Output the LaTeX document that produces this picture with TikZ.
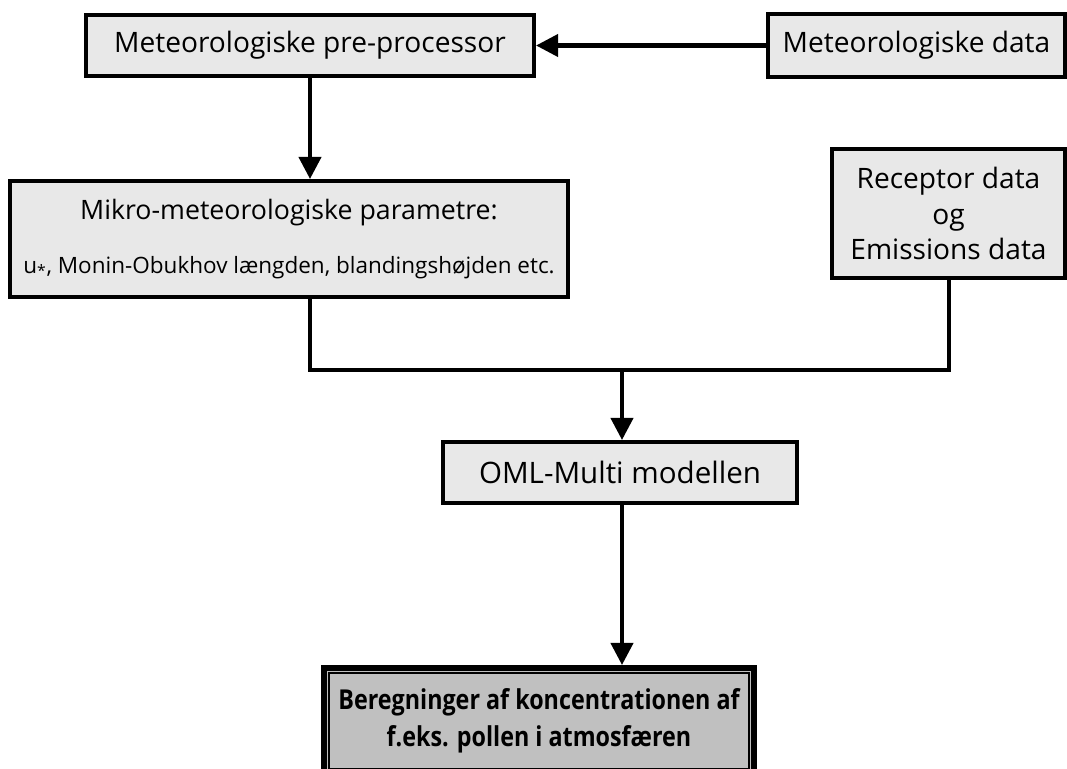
\documentclass[tikz,border=0pt]{standalone}
\usepackage{fontspec}
\setmainfont{Open Sans}
\newfontfamily\resfont[FakeStretch=0.85]{Open Sans}
\usetikzlibrary{arrows.meta,positioning,calc}
\definecolor{boxfill}{RGB}{232,232,232}
\definecolor{resfill}{RGB}{192,192,192}

\begin{document}
\begin{tikzpicture}[x=0.025cm,y=-0.025cm,font=\fontsize{20}{25}\selectfont,
  b/.style={draw,line width=1mm,fill=boxfill,align=center,inner sep=0pt},
  a/.style={line width=1mm,-{Triangle[length=5.5mm,width=5.5mm]}},
  l/.style={line width=1mm}]
\useasboundingbox (0,0) rectangle (1067,769);
\node[b,minimum width=11.2cm,minimum height=1.525cm] (p) at (310,45.5) {Meteorologiske pre-processor};
\node[b,minimum width=7.425cm,minimum height=1.55cm] (m) at (916.5,45.5) {Meteorologiske data};
\node[b,minimum width=13.95cm,minimum height=2.9cm,font=\fontsize{19}{24}\selectfont] (k) at (289,239)
  {Mikro-meteorologiske parametre:\\[14pt]{\fontsize{16}{20}\selectfont u\textsubscript{*}, Monin-Obukhov længden, blandingshøjden etc.}};
\node[b,minimum width=5.825cm,minimum height=3.225cm] (r) at (948.5,213.5) {Receptor data\\og\\Emissions data};
\node[b,minimum width=8.85cm,minimum height=1.525cm,font=\fontsize{21}{25}\selectfont] (o) at (620,472.5) {OML-Multi modellen};
\node[b,fill=resfill,line width=1.5mm,minimum width=10.75cm,minimum height=2.65cm,font=\resfont\fontsize{19.5}{26}\selectfont\bfseries] (c) at (539,721)
  {Beregninger af koncentrationen af\\f.eks. pollen i atmosfæren};
\draw[line width=0.5mm] ($(c.north west)+(8,8)$) rectangle ($(c.south east)+(-8,-8)$);
\coordinate (j) at (622,370);
\draw[a] (m.west) -- (m.west -| p.east);
\draw[a] (p.south) -- (p.south |- k.north);
\draw[l] (p.south |- k.south) |- (j) -| (r.south);
\draw[a] (j) -- (j |- o.north);
\draw[a] (j |- o.south) -- (j |- c.north);
\end{tikzpicture}
\end{document}
